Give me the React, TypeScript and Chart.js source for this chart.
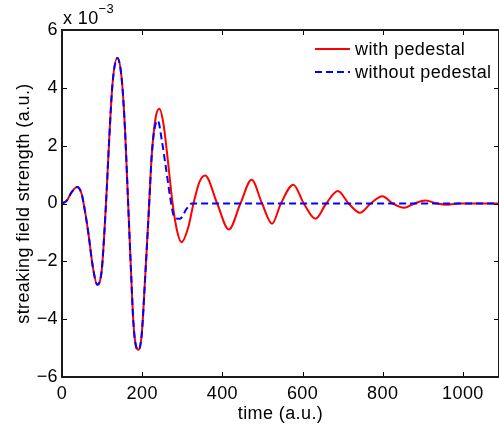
import React, { useEffect, useRef } from "react";
import { Chart, registerables } from "chart.js";

Chart.register(...registerables);

// time (a.u.) and field (units of 1e-3)
const timeWith = [
  0, 12, 24, 38, 49, 57, 66, 77, 88, 99, 106, 112, 118, 126, 138, 149, 157,
  165, 172, 178, 184, 191, 199, 207, 216, 224, 234, 243, 253, 264, 275, 286,
  298, 315, 328, 343, 357, 387, 416, 445, 473, 499, 524, 546, 577, 603, 632,
  659, 688, 715, 743, 770, 799, 825, 853, 879, 907, 935, 962, 990, 1090,
];
const fieldWith = [
  0, 0.1, 0.39, 0.57, 0.33, -0.24, -1.05, -2.2, -2.81, -2.32, -0.93, 0.6,
  2.29, 4.14, 5.03, 4.3, 2.6, 0, -2.3, -4.1, -4.9, -5.06, -4.5, -2.66, -0.4,
  1.7, 3.0, 3.28, 2.76, 1.49, 0.1, -0.88, -1.34, -0.82, 0, 0.75, 0.97, 0,
  -0.9, 0, 0.82, 0, -0.7, 0, 0.65, 0, -0.53, 0, 0.43, 0, -0.32, 0, 0.25, 0,
  -0.15, 0, 0.1, 0, -0.04, 0, 0,
];
const timeWithout = [
  0, 12, 24, 38, 49, 57, 66, 77, 88, 99, 106, 112, 118, 126, 138, 149, 157,
  165, 172, 178, 184, 191, 199, 207, 216, 224, 231, 239, 249, 259, 270, 280,
  294, 311, 324, 1090,
];
const fieldWithout = [
  0, 0.1, 0.39, 0.57, 0.33, -0.24, -1.05, -2.2, -2.81, -2.32, -0.93, 0.6,
  2.29, 4.14, 5.03, 4.3, 2.6, 0, -2.3, -4.1, -4.9, -5.06, -4.5, -2.66, -0.4,
  1.7, 2.6, 2.87, 2.18, 1.26, 0.2, -0.47, -0.53, -0.18, 0, 0,
];

const xTickValues = [0, 200, 400, 600, 800, 1000];
const yTickValues = [-6, -4, -2, 0, 2, 4, 6];
const seriesNames = ["with pedestal", "without pedestal"];
const seriesColors = ["#ff0000", "#0000ff"];
const xAxisTitle = "time (a.u.)";
const yAxisTitle = "streaking field strength (a.u.)";
const exponentBase = "x 10";
const exponentPower = "\u22123";
const xRange = [0, 1090];
const yRange = [-6, 6];

const FONT = "'Liberation Sans', Arial, Helvetica, sans-serif";
const FS = 18;
const LS = "0.4px";

export default function App() {
  const ref = useRef<HTMLCanvasElement>(null);

  useEffect(() => {
    const canvas = ref.current!;
    const framePlugin = {
      id: "matlabFrame",
      beforeLayout(chart: any) {
        chart.ctx.letterSpacing = LS;
      },
      beforeDraw(chart: any) {
        chart.ctx.letterSpacing = LS;
      },
      afterDatasetsDraw(chart: any) {
        const { ctx, chartArea: a, scales } = chart;
        ctx.save();
        ctx.letterSpacing = LS;
        // inward tick marks on all four sides
        ctx.strokeStyle = "#000";
        ctx.lineWidth = 1;
        const tl = 5;
        ctx.beginPath();
        xTickValues.forEach((v) => {
          const px = Math.round(scales.x.getPixelForValue(v)) + 0.5;
          ctx.moveTo(px, a.bottom);
          ctx.lineTo(px, a.bottom - tl);
          ctx.moveTo(px, a.top);
          ctx.lineTo(px, a.top + tl);
        });
        yTickValues.forEach((v) => {
          const py = Math.round(scales.y.getPixelForValue(v)) + 0.5;
          ctx.moveTo(a.left, py);
          ctx.lineTo(a.left + tl, py);
          ctx.moveTo(a.right, py);
          ctx.lineTo(a.right - tl, py);
        });
        ctx.stroke();
        // box
        ctx.lineWidth = 2;
        ctx.strokeStyle = "#1a1a1a";
        ctx.strokeRect(a.left, a.top, a.right - a.left, a.bottom - a.top);

        // legend
        ctx.font = `${FS}px ${FONT}`;
        ctx.textBaseline = "middle";
        ctx.textAlign = "left";
        chart.data.datasets.forEach((ds: any, i: number) => {
          const y = a.top + 19 + i * 23;
          const x0 = a.left + 253;
          ctx.beginPath();
          ctx.strokeStyle = ds.borderColor;
          ctx.lineWidth = 2;
          ctx.setLineDash(ds.borderDash || []);
          ctx.moveTo(x0, y);
          ctx.lineTo(x0 + 35, y);
          ctx.stroke();
          ctx.setLineDash([]);
          ctx.fillStyle = "#000";
          ctx.fillText(ds.label, x0 + 40, y + 1);
        });

        // exponent label
        ctx.textBaseline = "alphabetic";
        ctx.font = `${FS}px ${FONT}`;
        ctx.fillStyle = "#000";
        ctx.fillText(exponentBase, a.left + 1, a.top - 6);
        const w = ctx.measureText(exponentBase).width;
        ctx.font = `13px ${FONT}`;
        ctx.fillText(exponentPower, a.left + 1 + w, a.top - 17);
        ctx.restore();
      },
    };

    const chart = new Chart(canvas, {
      type: "line",
      data: {
        datasets: [
          {
            label: seriesNames[0],
            data: timeWith.map((t, i) => ({ x: t, y: fieldWith[i] })),
            borderColor: seriesColors[0],
            borderWidth: 2,
            pointRadius: 0,
            cubicInterpolationMode: "monotone",
            fill: false,
            order: 1,
          },
          {
            label: seriesNames[1],
            data: timeWithout.map((t, i) => ({ x: t, y: fieldWithout[i] })),
            borderColor: seriesColors[1],
            borderWidth: 2,
            borderDash: [7, 4],
            pointRadius: 0,
            cubicInterpolationMode: "monotone",
            fill: false,
            order: 0,
          },
        ],
      },
      options: {
        responsive: false,
        animation: false,
        devicePixelRatio: 1,
        events: [],
        layout: { padding: { left: 0, top: 30, right: 0, bottom: 0 } },
        plugins: { legend: { display: false }, tooltip: { enabled: false } },
        scales: {
          x: {
            type: "linear",
            min: xRange[0],
            max: xRange[1],
            grid: { display: false, drawTicks: false },
            border: { display: false },
            afterBuildTicks: (s: any) => {
              s.ticks = xTickValues.map((v) => ({ value: v }));
            },
            afterFit: (s: any) => {
              s.height = 52;
            },
            ticks: {
              color: "#000",
              font: { family: FONT, size: FS },
              padding: 6,
              maxRotation: 0,
              autoSkip: false,
              callback: (v: any) => String(v),
            },
            title: {
              display: true,
              text: xAxisTitle,
              color: "#000",
              font: { family: FONT, size: FS },
              padding: { top: 0, bottom: 4 },
            },
          },
          y: {
            type: "linear",
            min: yRange[0],
            max: yRange[1],
            grid: { display: false, drawTicks: false },
            border: { display: false },
            afterBuildTicks: (s: any) => {
              s.ticks = yTickValues.map((v) => ({ value: v }));
            },
            afterFit: (s: any) => {
              s.width = 62;
            },
            ticks: {
              color: "#000",
              font: { family: FONT, size: FS },
              padding: 4,
              autoSkip: false,
              callback: (v: any) =>
                Number(v) < 0 ? "\u2212" + Math.abs(Number(v)) : String(v),
            },
            title: {
              display: true,
              text: yAxisTitle,
              color: "#000",
              font: { family: FONT, size: FS },
              padding: { top: 13, bottom: 0 },
            },
          },
        },
      },
      plugins: [framePlugin],
    } as any);

    return () => chart.destroy();
  }, []);

  return (
    <div
      style={{
        position: "absolute",
        left: 0,
        top: 0,
        width: 499,
        height: 429,
        background: "#fff",
        overflow: "hidden",
      }}
    >
      <canvas ref={ref} width={499} height={429} style={{ display: "block" }} />
    </div>
  );
}
